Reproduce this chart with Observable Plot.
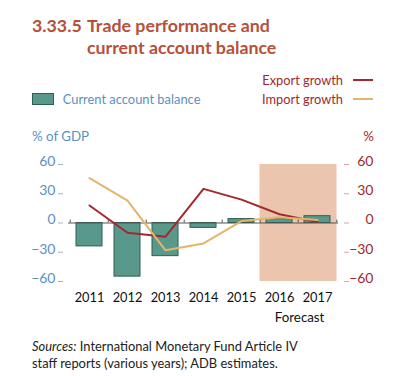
<!DOCTYPE html>
<html>
<head>
<meta charset="utf-8">
<script src="https://cdn.jsdelivr.net/npm/d3@7"></script>
<script src="https://cdn.jsdelivr.net/npm/@observablehq/plot@0.6"></script>
<style>
  html, body { margin: 0; padding: 0; background: #fff; }
  #wrap { position: relative; width: 416px; height: 376px; font-family: Lato, "Open Sans", sans-serif; overflow: hidden; }
  .abs { position: absolute; white-space: nowrap; }
  #chart { position: absolute; left: 0; top: 118px; }
</style>
</head>
<body>
<div id="wrap">
  <div class="abs" style="left:32px; top:15px; font-size:17.8px; line-height:21.7px; font-weight:700; color:#b5513a;">3.33.5</div>
  <div class="abs" style="left:87px; top:15px; font-size:17.8px; line-height:21.7px; font-weight:700; color:#b5513a;">Trade performance and<br>current account balance</div>

  <div class="abs" style="right:73px; top:72px; font-size:12.8px; line-height:16px; color:#a3282e;">Export growth</div>
  <div class="abs" style="left:353px; top:79px; width:20px; height:2px; background:#a3282e;"></div>
  <div class="abs" style="right:73px; top:91.3px; font-size:12.8px; line-height:16px; color:#a3282e;">Import growth</div>
  <div class="abs" style="left:353px; top:98.3px; width:20px; height:2px; background:#e3b56a;"></div>

  <div class="abs" style="left:32px; top:93px; width:20px; height:10px; background:#58998b; border:1px solid #2e5e54;"></div>
  <div class="abs" style="left:62.7px; top:91.3px; font-size:12.9px; line-height:16px; color:#5b8fc4;">Current account balance</div>

  <div class="abs" style="left:32px; top:127.7px; font-size:13.3px; line-height:16px; color:#5b8fc4;">% of GDP</div>
  <div class="abs" style="right:42px; top:127.7px; font-size:13.3px; line-height:16px; color:#a3282e;">%</div>

  <div id="chart"></div>

  <div class="abs" id="forecast" style="left:299.6px; top:308.7px; transform:translateX(-50%); font-size:13.3px; line-height:16px; color:#111;">Forecast</div>

  <div class="abs" style="left:32px; top:338.3px; font-size:12.9px; line-height:16.7px; color:#222;"><i>Sources:</i> International Monetary Fund Article IV<br>staff reports (various years); ADB estimates.</div>
</div>
<script>
const years = ["2011", "2012", "2013", "2014", "2015", "2016", "2017"];
const currentAccount = [-24, -55, -34, -5, 4, 4, 7];
const exportGrowth = [18, -10, -14, 35, 24, 9, 1];
const importGrowth = [46, 23, -28, -21, 2, 6, 3];
const forecastYears = ["2016", "2017"];
const yTicks = [-60, -30, 0, 30, 60];

const data = years.map((year, i) => ({
  year,
  ca: currentAccount[i],
  exp: exportGrowth[i],
  imp: importGrowth[i]
}));

const W = 416, H = 210, ML = 68, MR = 78, MT = 46, MB = 47;
const bw = (W - ML - MR) / years.length;

const chart = Plot.plot({
  width: W,
  height: H,
  marginLeft: ML,
  marginRight: MR,
  marginTop: MT,
  marginBottom: MB,
  style: { fontFamily: "Lato, 'Open Sans', sans-serif", fontSize: "13px", background: "transparent" },
  x: { type: "band", domain: years, padding: 0 },
  y: { domain: [-60, 60] },
  marks: [
    Plot.barY(forecastYears, { x: d => d, y1: -60, y2: 60, fill: "#ebc5ad", insetLeft: -0.5, insetRight: -0.5 }),
    Plot.barY(data, { x: "year", y: "ca", fill: "#58998b", stroke: "#2e5e54", strokeWidth: 1, insetLeft: 6, insetRight: 6 }),
    Plot.ruleY([0], { stroke: "#555", strokeWidth: 1.2 }),
    Plot.ruleX(years, { x: d => d, y1: 0, y2: 3, dx: -bw / 2, stroke: "#555" }),
    Plot.ruleX(["2017"], { x: d => d, y1: 0, y2: 3, dx: bw / 2, stroke: "#555" }),
    Plot.line(data, { x: "year", y: "exp", stroke: "#a3282e", strokeWidth: 2 }),
    Plot.line(data, { x: "year", y: "imp", stroke: "#e3b56a", strokeWidth: 2 }),
    Plot.axisY({ anchor: "left", ticks: yTicks, tickSize: 5, dx: -5, tickFormat: () => "", stroke: "#9db6cf", label: null }),
    Plot.axisY({ anchor: "left", ticks: yTicks, tickSize: 0, tickPadding: 13, dy: -3, fill: "#5b8fc4", fontSize: 14, label: null }),
    Plot.axisY({ anchor: "right", ticks: yTicks, tickSize: 5, dx: 5, tickFormat: () => "", stroke: "#d6a9a6", label: null }),
    Plot.axisY({ anchor: "right", ticks: yTicks, tickSize: 0, tickPadding: 35, textAnchor: "end", dy: -3, fill: "#a3282e", fontSize: 14, label: null }),
    Plot.axisX({ anchor: "bottom", tickSize: 0, tickPadding: 11, fill: "#111", fontSize: 12.8, label: null })
  ]
});
document.getElementById("chart").appendChild(chart);
</script>
</body>
</html>
